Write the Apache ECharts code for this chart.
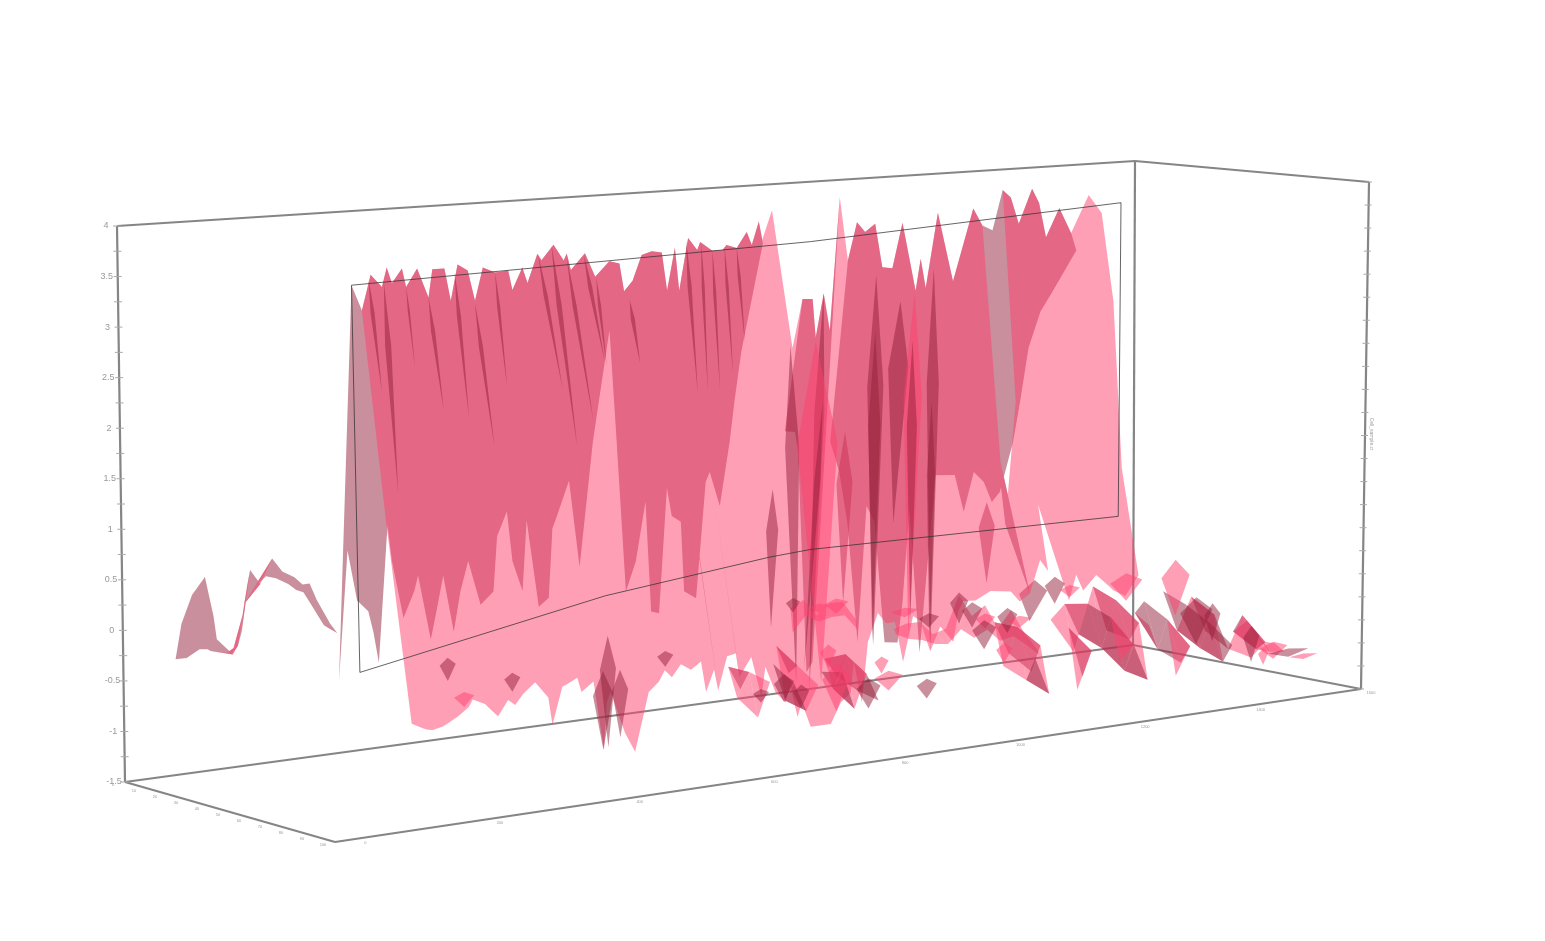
<!DOCTYPE html>
<html>
<head>
<meta charset="utf-8">
<style>html,body{margin:0;padding:0;background:#fff}#main{width:1545px;height:941px}</style>
<script src="https://cdn.jsdelivr.net/npm/echarts@6/dist/echarts.min.js"></script>
</head>
<body>
<div id="main"></div>
<script>
// wall columns, position along the long axis
var xValues = [
169,179,188,199,204,209,219,223,234,245,
249,261,267,274,284,291,299,311,324,328,
338,343,353,357,369,379,382,386,400,410,
424,434,440,447,456,466,476,481,489,493,
502,511,514,526,536,540,550,560,565,572,
576,585,605,615,625,628,636,642,652,660,
669,677,687,694,704,714,727,732,737,749,
764,784,793,803,813,821,829,842,849,856,
869,881,886,898,911,923];
// far foot of the wall (depth .22)
var farFootZ = [
-.59,.7,.19,.07,-.15,-.46,.91,.55,-.04,.22,
.37,-.29,-.01,.34,-.24,.16,.46,0,.12,.68,
.92,.41,.09,.85,-.09,-.01,.67,.77,1.17,.27,
1.55,2.68,2.89,1.63,-.04,.26,.87,-.28,-.31,1.27,
.69,.62,-.11,-.2,1.01,1.11,.74,1.41,1.83,2.35,
2.98,null,null,1.46,1.44,1.23,-1.13,-1.03,null,1.3,
.97,.42,-.88,.62,.39,-.92,-.94,-.51,.78,-1.08,
.82,.8,.39,.81,.69,.46,.56,1.09,1.53,2.07,
2.5,2.71,3.03,null,null,null];
// ridge (depth .30)
var ridgeZ = [
3.39,3.13,3.48,3.35,3.54,3.38,3.52,3.33,3.51,3.21,
3.49,3.49,3.16,3.52,3.45,3.14,3.47,3.41,3.42,3.22,
3.44,3.28,3.57,3.5,3.65,3.48,3.55,3.38,3.54,3.29,
3.44,3.41,3.02,3.22,3.48,3.51,3.49,3.09,3.53,3.08,
3.62,3.49,3.57,3.47,3.47,3.52,3.48,3.64,3.5,3.74,
3.51,3.85,2.38,2.89,2.88,2.47,2.93,2.53,3.94,3.26,
3.66,3.55,3.63,3.16,3.14,3.62,2.88,3.22,2.9,3.7,
2.95,3.72,3.53,3.47,3.9,3.81,3.52,3.89,3.73,3.35,
3.66,3.37,3.18,3.78,3.57,2.59];
// near side starts from the ridge, but these columns have no near side at the top
var nearOpenColumns = [73];
// near shoulder (depth .36)
var shoulderZ = [
null,null,1.04,.94,1.05,.95,1.05,.93,1.07,.9,
1.1,1.08,.85,1.06,1.06,.84,1.09,1.09,1.03,.8,
1.08,.98,1.19,1.09,1.22,.86,1.07,1,.95,.71,
1.02,1.03,.81,.92,1.13,1.12,1.13,.76,1.13,.76,
1.23,1.15,1.11,1.11,.96,1.1,.98,1.04,1.01,1.05,
.95,1.08,.12,.53,.55,.4,.54,.5,1.52,1.04,
1.3,1.07,1.29,.97,.83,1.23,.69,1.02,.85,1.36,
.91,1.4,1.23,.3,1.62,1.51,.7,1.44,1.43,1.12,
1.38,1.14,1,1.36,1.3,-.1];
// near foot (depth .47)
var nearFootZ = [
null,null,-.91,-.97,-.99,-1,-.98,-.96,-.9,-.82,
-.75,-.81,-.88,-.95,-.8,-.86,-.76,-.66,-.83,-1.11,
-.74,-.72,-.67,-.82,-.73,-1.44,-.96,-.86,-1.29,-1.5,
-.91,-.82,-.71,-.79,-.67,-.74,-.67,-.99,-.77,-.99,
-.65,-.63,-.88,-.69,-1.12,-.81,-1.09,-1.21,-1.05,-1.38,
-1.23,-1.5,-1.5,-1.29,-1.2,-.88,-1.32,-.69,-.4,-.52,
-.52,-.95,-.48,-.54,-.88,-.63,-.81,-.49,-.39,-.4,
-.32,-.35,-.47,-.4,-.05,-.18,null,-.53,-.26,-.44,
-.29,-.42,-.48,-.56,-.35,null];
var farDepths = [.22,.30];
var nearDepths = [.30,.36,.47];

// low ribbon left of the wall
var stripX = [-4,7,20,28,31,47,52,58,62,65,75,87,97,109,117,124,131,144,151];
var stripBaseZ = [-.14,-.14,-.07,-.08,-.1,-.14,-.16,-.09,.05,.32,.47,.57,.54,.47,.4,.37,.25,.02,-.02];
var stripTopZ = [.22,.49,.65,.26,.03,-.14,-.05,.27,.52,.67,.52,.76,.62,.55,.47,.47,.3,.05,-.05];
var stripDepths = [.27,.30];

// folds in the wall
var bladeTopX = [186,201,223,245,271,291,311,354,367,382,399,411,444,500,515,526,538,550,
  585,603,636,628,635,688,687,712,726,724,745,743,657,798,846];
var bladeTopZ = [3.43,3.39,3.33,3.21,3.44,3.11,3.41,3.55,3.65,3.51,3.52,3.28,3.02,3.6,3.56,3.47,3.5,3.48,
  .91,2.4,2.93,2.43,1.79,3.08,2.48,2.78,2.85,2.34,3.1,1.67,1.44,.52,-.39];
var bladeBotX = [198,213,231,259,284,309,322,377,391,407,419,421,454,511,521,533,546,558,
  583,608,621,633,616,685,684,705,720,722,742,741,655,798,841];
var bladeBotZ = [2.3,1.28,2.52,2.07,1.97,1.65,2.24,2.17,1.57,1.83,2.41,2.35,2.36,2,2.01,2.02,2.17,2.48,
  -.54,-1.16,-1.28,-1.19,-1.03,-.88,-.85,.41,-.83,-.68,-1.01,-.94,-.38,-.36,-.83];
var bladeSpan = [2,3,1,2,2,2,1.5,2,2.5,2,2,1.5,2,2,1.5,1.5,1.5,1.5,
  6,7,5,20,3,8,6,10,9,5,6,4,8,8,14];
var bladeSide = [1,1,1,1,1,1,1,1,1,1,1,1,1,1,1,1,1,1,
  1,1,1,0,1,1,1,1,0,1,1,1,1,1,1];
var bladeUnder = [0,0,0,0,0,0,0,0,0,0,0,0,0,0,0,0,0,0,
  0,0,0,0,0,0,0,0,0,0,0,0,1,1,1];

// loose pieces (depth .5)
var chipX = [561,604,587,672,696,726,739,752,774,786,751,771,821,836,892,694,649,636,656,604,596,552,569,529,941,377,372,389,282,218,234,434,
  962,978,1017,1039,1054,1069,1029];
var chipTopZ = [-.11,-.17,-.2,-.36,-.45,-.27,-.39,-.53,-.5,-.6,-.6,-.87,-.23,-.34,-.29,-1.14,-.84,-1.05,-1,-.85,-.64,-.89,-1.02,-1.01,-.21,-.26,-.61,-.62,-.51,-.28,-.64,-.49,
  -.65,-.74,-1.05,-1.26,-1.36,-1.44,-1.32];
var chipBotZ = [-.26,-.33,-.3,-.46,-.6,-.6,-.66,-.69,-.77,-.73,-.91,-1.09,-.52,-.47,-.59,-1.35,-1.02,-1.37,-1.21,-1.35,-.89,-1.18,-1.27,-1.15,-.82,-1.39,-1.41,-1.31,-.7,-.51,-.79,-.65,
  -1.17,-1.16,-1.45,-1.45,-1.45,-1.5,-1.5];
var chipSpan = [7,12,9,14,10,9,10,10,10,12,12,8,10,10,16,10,7,12,14,14,8,10,8,8,14,8,10,8,8,8,10,8,
  16,8,8,14,20,14,5];
var chipSide = [1,0,0,0,1,1,1,0,1,0,1,0,1,0,0,1,0,1,0,0,0,1,1,1,0,1,1,1,1,1,0,1,
  1,1,1,0,1,0,0];

// right hand patch of the surface
var patchAX = [779,793,807,821,835,849,863,877,891,905,919,933,947,961,975,989,1003,1017,1031,1045,1059];
var patchARows = [
  [-.7,-1.05,null,-1.2,-.75,-.6,-.95,-.45,-.95,null,-.8,-.95,-.6,-1.05,-.7,-1.1,null,-1.15,-1.05,-1.3,-1.35],
  [-1.15,-.75,-1.25,-.8,null,-1.1,-.6,-1.1,-.6,-1.05,-.65,-1.2,null,-.75,-1.25,-.9,-1.3,-.95,-1.35,-1.4,-1.42],
  [null,-1.3,-.95,null,-.8,-1.35,null,-.75,-1.35,-.85,null,-.85,-1.35,null,-.95,-1.4,null,-1.4,-1.25,null,null],
  [null,-1.05,-1.45,null,-1.45,-1.05,null,-1.2,-1.05,-1.45,null,-1.45,-1.15,null,null,-1.2,null,null,null,null,null]];
var patchADepths = [.42,.46,.50,.54];
// lower patch under the middle of the wall
var patchBX = [514,526,538,550,562,574,586,598,610,622,634,646,658];
var patchBRows = [
  [-.8,-1.05,-.7,null,-.65,-.95,-.7,null,-.85,-1.05,null,-1,null],
  [-1.1,-.85,null,-.8,-1.2,-.85,null,-.95,-1.15,-.8,-1.2,null,-1.15],
  [null,-1.3,-.95,null,-1,-1.3,-1.05,null,-.95,-1.35,-1,-1.3,null]];
var patchBDepths = [.42,.46,.50];
// thin band behind the patches
var bandX = [598,611,624,637,650,663,676,689,701,714,727,740,753,766,779,792,805,818,831,844];
var bandRows = [
  [-.35,-.28,-.46,-.35,-.35,-.55,null,null,-.71,-.67,-.67,-.82,-.78,-.44,-.68,-.58,-.85,-.67,-.93,-1.13],
  [-.6,-.44,-.52,-.49,-.49,-.66,null,null,-.76,-.83,-.86,-.92,-.94,-.8,-.91,-.84,-.98,-.95,-1.06,-1.19]];
var bandDepths = [.32,.33];

// thin trace line (depth .30)
var traceX = [173,418,582,622,929,930,623,169,173];
var traceZ = [-.47,0,.2,.23,.2,3.67,3.49,3.39,-.47];

// axes
var zTicks = [4,3.75,3.5,3.25,3,2.75,2.5,2.25,2,1.75,1.5,1.25,1,.75,.5,.25,0,-.25,-.5,-.75,-1,-1.25,-1.5];
var zTickLabels = ['4','3.5','3','2.5','2','1.5','1','0.5','0','-0.5','-1','-1.5'];
var zLabelValues = [4,3.5,3,2.5,2,1.5,1,.5,0,-.5,-1,-1.5];
var xTickValues = [20,153,291,424,553,667,790,904,1013];
var xTickLabels = ['0','200','400','600','800','1000','1200','1400','1600'];
var depthTickValues = [0,.1,.2,.3,.4,.5,.6,.7,.8,.9,1];
var depthTickLabels = ['0','10','20','30','40','50','60','70','80','90','100'];
var zAxisName = 'Cell_sample.ct';

var XMAX = 1013, ZMIN = -1.5, ZMAX = 4;
// box corners on screen: floor and top, order back-left, back-right, front-right, front-left
var FLOOR = [[125,782],[1133,645],[1361,689],[335,842]];
var CEIL = [[117,226],[1135,161],[1369,182],[326,257]];
var FRONT_COLOR = 'rgba(255,64,110,0.5)';
var BACK_COLOR = 'rgba(147,31,57,0.5)';
var FRAME_COLOR = '#858585';
var TEXT_COLOR = '#9a9a9a';

function bilin(c, u, v) {
  var r = [];
  for (var k = 0; k < 2; k++) {
    r[k] = c[0][k]*(1-u)*(1-v) + c[1][k]*u*(1-v) + c[2][k]*u*v + c[3][k]*(1-u)*v;
  }
  return r;
}
function project(x, v, z) {
  var u = x / XMAX;
  var b = bilin(FLOOR, u, v), t = bilin(CEIL, u, v);
  var w = (z - ZMIN) / (ZMAX - ZMIN);
  return [b[0] + (t[0]-b[0])*w, b[1] + (t[1]-b[1])*w];
}

// triangles of a surface from its rows, back to front
function addTriangles(list, xs, depths, rows) {
  for (var j = 0; j < rows.length-1; j++) {
    for (var i = 0; i < xs.length-1; i++) {
      var a = [xs[i], depths[j], rows[j][i]];
      var b = [xs[i+1], depths[j], rows[j][i+1]];
      var c = [xs[i+1], depths[j+1], rows[j+1][i+1]];
      var d = [xs[i], depths[j+1], rows[j+1][i]];
      if (a[2] != null && b[2] != null && c[2] != null) list.push([a, b, c]);
      if (a[2] != null && c[2] != null && d[2] != null) list.push([a, c, d]);
    }
  }
}
var nearTopZ = ridgeZ.map(function (z, i) { return nearOpenColumns.indexOf(i) >= 0 ? null : z; });
var wallTris = [];
addTriangles(wallTris, stripX, stripDepths, [stripBaseZ, stripTopZ]);
addTriangles(wallTris, xValues, farDepths, [farFootZ, ridgeZ]);
addTriangles(wallTris, xValues, nearDepths, [nearTopZ, shoulderZ, nearFootZ]);
var patchTris = [];
addTriangles(patchTris, bandX, bandDepths, bandRows);
addTriangles(patchTris, patchBX, patchBDepths, patchBRows);
addTriangles(patchTris, patchAX, patchADepths, patchARows);

function triArea(p) {
  return (p[1][0]-p[0][0])*(p[2][1]-p[0][1]) - (p[1][1]-p[0][1])*(p[2][0]-p[0][0]);
}
// wall as one path per face, so that neighbouring triangles leave no seams
function renderWall(params, api) {
  var wantFront = params.dataIndex === 1, d = [];
  wallTris.forEach(function (t) {
    var p = t.map(function (q) { return api.coord(project(q[0], q[1], q[2])); });
    if ((triArea(p) >= 0) === wantFront) {
      d.push('M' + p[0][0].toFixed(1) + ' ' + p[0][1].toFixed(1) + 'L' + p[1][0].toFixed(1) + ' ' + p[1][1].toFixed(1) + 'L' + p[2][0].toFixed(1) + ' ' + p[2][1].toFixed(1) + 'Z');
    }
  });
  return {type:'path', shape:{pathData:d.join('')}, style:{fill: wantFront ? FRONT_COLOR : BACK_COLOR}, silent:true};
}
function renderPatch(params, api) {
  var t = patchTris[params.dataIndex];
  var p = t.map(function (q) { return api.coord(project(q[0], q[1], q[2])); });
  return {type:'polygon', shape:{points:p}, style:{fill: triArea(p) >= 0 ? FRONT_COLOR : BACK_COLOR}, silent:true};
}
function kite(api, x1, z1, x2, z2, v, span, side) {
  var mx = x1 + (x2-x1)*.3, mz = z1 + (z2-z1)*.3;
  var pts = [[x1,z1],[mx-span,mz],[x2,z2],[mx+span,mz]].map(function (q) {
    return api.coord(project(q[0], v, q[1]));
  });
  return {type:'polygon', shape:{points:pts}, style:{fill: side ? BACK_COLOR : FRONT_COLOR}, silent:true};
}
function renderBlade(params, api) {
  var i = api.value(0);
  return kite(api, bladeTopX[i], bladeTopZ[i], bladeBotX[i], bladeBotZ[i], .30, bladeSpan[i], bladeSide[i]);
}
function renderChip(params, api) {
  var i = params.dataIndex;
  return kite(api, chipX[i], chipTopZ[i], chipX[i], chipBotZ[i], .5, chipSpan[i], chipSide[i]);
}

// box edges
var frameEdges = [
  [[0,0,ZMIN],[0,0,ZMAX]],[[XMAX,0,ZMIN],[XMAX,0,ZMAX]],[[XMAX,1,ZMIN],[XMAX,1,ZMAX]],
  [[0,0,ZMAX],[XMAX,0,ZMAX]],[[XMAX,0,ZMAX],[XMAX,1,ZMAX]],
  [[0,0,ZMIN],[XMAX,0,ZMIN]],[[XMAX,0,ZMIN],[XMAX,1,ZMIN]],
  [[0,0,ZMIN],[0,1,ZMIN]],[[0,1,ZMIN],[XMAX,1,ZMIN]]
];
function renderEdge(params, api) {
  var e = frameEdges[params.dataIndex];
  var a = api.coord(project(e[0][0], e[0][1], e[0][2])), b = api.coord(project(e[1][0], e[1][1], e[1][2]));
  return {type:'line', shape:{x1:a[0],y1:a[1],x2:b[0],y2:b[1]}, style:{stroke:FRAME_COLOR, lineWidth:2.2}, silent:true};
}
function renderTick(params, api) {
  var z = zTicks[params.dataIndex];
  var a = api.coord(project(0, 0, z)), b = api.coord(project(XMAX, 1, z));
  return {type:'group', children:[
    {type:'line', shape:{x1:a[0]-4,y1:a[1],x2:a[0]+4,y2:a[1]}, style:{stroke:'#aaa', lineWidth:1}},
    {type:'line', shape:{x1:b[0]-4,y1:b[1],x2:b[0]+3,y2:b[1]}, style:{stroke:'#aaa', lineWidth:1}}
  ], silent:true};
}
function smallText(p, text, font) {
  return {type:'text', style:{x:p[0], y:p[1], text:text, fill:TEXT_COLOR, font:font, align:'center', verticalAlign:'middle'}, silent:true};
}
function renderZLabel(params, api) {
  var i = params.dataIndex;
  var p = api.coord(project(0, 0, zLabelValues[i]));
  return smallText([p[0]-11, p[1]], zTickLabels[i], '9px "Liberation Sans"');
}
function renderXLabel(params, api) {
  var i = params.dataIndex;
  var p = api.coord(project(xTickValues[i], 1, ZMIN));
  return smallText([p[0]+10, p[1]+4], xTickLabels[i], '4px "Liberation Sans"');
}
function renderDepthLabel(params, api) {
  var i = params.dataIndex;
  var p = api.coord(project(0, depthTickValues[i], ZMIN));
  return smallText([p[0]-12, p[1]+3], depthTickLabels[i], '4px "Liberation Sans"');
}

function indexData(n) {
  var d = [];
  for (var i = 0; i < n; i++) d.push([i]);
  return d;
}
function bladeIndexes(flag) {
  var d = [];
  bladeUnder.forEach(function (f, i) { if (f === flag) d.push([i]); });
  return d;
}
function custom(fn, data, z) {
  return {type:'custom', renderItem:fn, data:data, z:z, animation:false, silent:true, progressive:0, clip:false};
}

var chart = echarts.init(document.getElementById('main'), null, {renderer:'canvas'});
chart.setOption({
  backgroundColor:'#fff',
  animation:false,
  grid:{left:0, right:0, top:0, bottom:0},
  xAxis:{type:'value', min:0, max:1545, show:false},
  yAxis:{type:'value', min:0, max:941, inverse:true, show:false},
  series:[
    custom(renderEdge, indexData(frameEdges.length), 1),
    custom(renderTick, indexData(zTicks.length), 1),
    custom(renderBlade, bladeIndexes(1), 2),
    custom(renderWall, indexData(2), 3),
    custom(renderBlade, bladeIndexes(0), 4),
    custom(renderPatch, indexData(patchTris.length), 5),
    custom(renderChip, indexData(chipX.length), 5),
    {type:'line', z:6, silent:true, animation:false, showSymbol:false, clip:false,
      data:traceX.map(function (x, i) { return project(x, .30, traceZ[i]); }),
      lineStyle:{color:'rgba(50,50,50,0.75)', width:1}},
    custom(renderZLabel, indexData(zLabelValues.length), 7),
    custom(renderXLabel, indexData(xTickValues.length), 7),
    custom(renderDepthLabel, indexData(depthTickValues.length), 7),
    custom(function (params, api) {
      var p = api.coord(project(XMAX, 1, 1.2));
      return {type:'text', x:p[0]+6, y:p[1]-6, rotation:-Math.PI/2,
        style:{x:0, y:0, text:zAxisName, fill:TEXT_COLOR, font:'5px "Liberation Sans"', align:'center', verticalAlign:'middle'}, silent:true};
    }, [[0]], 7)
  ]
});
</script>
</body>
</html>
